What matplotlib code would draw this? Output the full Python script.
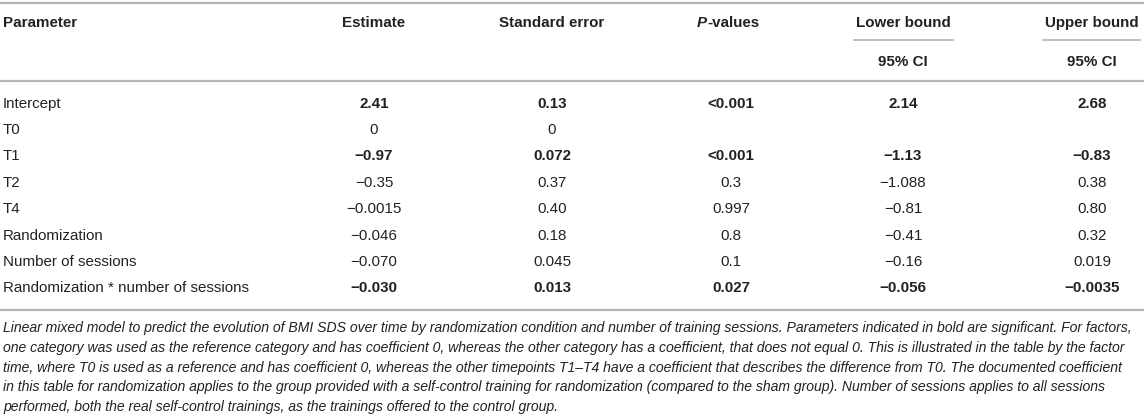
import matplotlib.pyplot as plt

plt.rcParams['font.family'] = ['Liberation Sans', 'DejaVu Sans']

# table contents
parameters = ['Intercept', 'T0', 'T1', 'T2', 'T4', 'Randomization',
              'Number of sessions', 'Randomization * number of sessions']
estimate = ['2.41', '0', '\u22120.97', '\u22120.35', '\u22120.0015', '\u22120.046', '\u22120.070', '\u22120.030']
std_error = ['0.13', '0', '0.072', '0.37', '0.40', '0.18', '0.045', '0.013']
p_values = ['<0.001', '', '<0.001', '0.3', '0.997', '0.8', '0.1', '0.027']
lower_bound = ['2.14', '', '\u22121.13', '\u22121.088', '\u22120.81', '\u22120.41', '\u22120.16', '\u22120.056']
upper_bound = ['2.68', '', '\u22120.83', '0.38', '0.80', '0.32', '0.019', '\u22120.0035']
significant = [True, False, True, False, False, False, False, True]

caption = [
    'Linear mixed model to predict the evolution of BMI SDS over time by randomization condition and number of training sessions. Parameters indicated in bold are significant. For factors,',
    'one category was used as the reference category and has coefficient 0, whereas the other category has a coefficient, that does not equal 0. This is illustrated in the table by the factor',
    'time, where T0 is used as a reference and has coefficient 0, whereas the other timepoints T1\u2013T4 have a coefficient that describes the difference from T0. The documented coefficient',
    'in this table for randomization applies to the group provided with a self-control training for randomization (compared to the sham group). Number of sessions applies to all sessions',
    'performed, both the real self-control trainings, as the trainings offered to the control group.',
]

W, H = 1144, 417
fig = plt.figure(figsize=(W / 100, H / 100), dpi=100)
ax = fig.add_axes([0, 0, 1, 1])
ax.set_xlim(0, W)
ax.set_ylim(H, 0)
ax.axis('off')

txt = '#222222'
rule = '#b4b4b4'
fs = 10.9

# horizontal rules
ax.plot([0, W], [3, 3], color=rule, lw=1.6)
ax.plot([0, W], [81, 81], color=rule, lw=1.6)
ax.plot([0, W], [310, 310], color=rule, lw=1.6)
ax.plot([854, 953], [40, 40], color=rule, lw=1.2)
ax.plot([1043, 1140], [40, 40], color=rule, lw=1.2)

# header
col_x = [374, 552, 731, 903, 1092]
ax.text(3, 23, 'Parameter', fontsize=fs, fontweight='bold', color=txt, va='center', ha='left')
ax.text(col_x[0], 23, 'Estimate', fontsize=fs, fontweight='bold', color=txt, va='center', ha='center')
ax.text(col_x[1], 23, 'Standard error', fontsize=fs, fontweight='bold', color=txt, va='center', ha='center')
# italic P + bold "-values"
ax.text(col_x[2] - 34, 23, 'P', fontsize=fs, fontweight='bold', style='italic', color=txt, va='center', ha='left')
ax.text(col_x[2] - 24, 23, '-values', fontsize=fs, fontweight='bold', color=txt, va='center', ha='left')
ax.text(col_x[3], 23, 'Lower bound', fontsize=fs, fontweight='bold', color=txt, va='center', ha='center')
ax.text(col_x[4], 23, 'Upper bound', fontsize=fs, fontweight='bold', color=txt, va='center', ha='center')
ax.text(col_x[3], 62, '95% CI', fontsize=fs, fontweight='bold', color=txt, va='center', ha='center')
ax.text(col_x[4], 62, '95% CI', fontsize=fs, fontweight='bold', color=txt, va='center', ha='center')

# body rows
row_y0, row_dy = 103.5, 26.4
columns = [estimate, std_error, p_values, lower_bound, upper_bound]
for i, name in enumerate(parameters):
    y = row_y0 + i * row_dy
    ax.text(3, y, name, fontsize=fs, color=txt, va='center', ha='left')
    w = 'bold' if significant[i] else 'normal'
    for x, col in zip(col_x, columns):
        ax.text(x, y, col[i], fontsize=fs, fontweight=w, color=txt, va='center', ha='center')

# footnote
for j, line in enumerate(caption):
    ax.text(3, 328 + j * 19.8, line, fontsize=10.05, style='italic', color=txt, va='center', ha='left')

fig.savefig('out.png', dpi=100)
